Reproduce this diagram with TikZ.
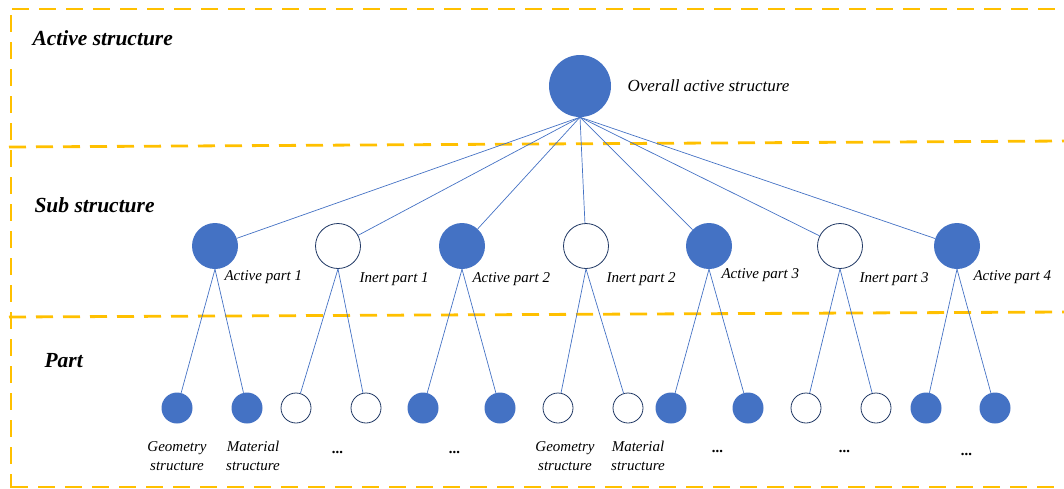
\documentclass[tikz,border=0pt]{standalone}
\usepackage{fontspec}
\setmainfont{Liberation Serif}
\usetikzlibrary{positioning}
\definecolor{partblue}{HTML}{4472C4}
\definecolor{inertedge}{HTML}{203864}
\definecolor{bandgold}{HTML}{FFC000}

\begin{document}
\begin{tikzpicture}[x=1pt, y=-1pt,
  active/.style={circle, fill=partblue, inner sep=0pt, minimum size=#1},
  inert/.style={circle, draw=inertedge, fill=white, line width=0.8pt, inner sep=0pt, minimum size=#1},
  link/.style={draw=partblue, line width=0.7pt},
  band/.style={draw=bandgold, line width=2.8pt, dash pattern=on 17pt off 10pt},
  heading/.style={font=\fontsize{21.5}{24}\selectfont\bfseries\itshape, anchor=west},
  sublabel/.style={font=\fontsize{15}{18}\selectfont\itshape, anchor=west},
  caption/.style={font=\fontsize{15}{19}\selectfont\itshape, align=center}]
\useasboundingbox (0,0) rectangle (1064,488);

% layer bands
\draw[band] (12,9) -- (1064,9);
\draw[band] (11,15) -- (11,488);
\draw[band] (9,147) -- (1064,141);
\draw[band] (9,317) -- (1064,312);
\draw[band] (11,487) -- (1064,487);

\node[heading] (hact) at (29,38) {Active structure};
\node[heading] (hsub) at (31,205) {Sub structure};
\node[heading] (hpart) at (41,361) {Part};

% overall structure
\node[active=62pt] (top) at (580,86) {};
\node[sublabel, font=\fontsize{17}{20}\selectfont\itshape] (toplbl) at (624,86) {Overall active structure};

% sub structures
\node[active=46pt] (a1) at (215,246) {};
\node[inert=45pt]  (i1) at (338,246) {};
\node[active=46pt] (a2) at (462,246) {};
\node[inert=45pt]  (i2) at (586,246) {};
\node[active=46pt] (a3) at (709,246) {};
\node[inert=45pt]  (i3) at (840,246) {};
\node[active=46pt] (a4) at (957,246) {};

\node[sublabel] (a1lbl) at (221,277) {Active part 1};
\node[sublabel] (i1lbl) at (356,279) {Inert part 1};
\node[sublabel] (a2lbl) at (469,279) {Active part 2};
\node[sublabel] (i2lbl) at (603,279) {Inert part 2};
\node[sublabel] (a3lbl) at (718,275) {Active part 3};
\node[sublabel] (i3lbl) at (856,279) {Inert part 3};
\node[sublabel] (a4lbl) at (970,277) {Active part 4};

\foreach \s in {a1,i1,a2,i2,a3,i3,a4}
  \draw[link] (top.south) -- (\s);

% parts
\node[active=31pt] (a1g) at (177,408) {};
\node[active=31pt] (a1m) at (247,408) {};
\node[inert=30pt]  (i1g) at (296,408) {};
\node[inert=30pt]  (i1m) at (366,408) {};
\node[active=31pt] (a2g) at (423,408) {};
\node[active=31pt] (a2m) at (500,408) {};
\node[inert=30pt]  (i2g) at (558,408) {};
\node[inert=30pt]  (i2m) at (628,408) {};
\node[active=31pt] (a3g) at (671,408) {};
\node[active=31pt] (a3m) at (748,408) {};
\node[inert=30pt]  (i3g) at (806,408) {};
\node[inert=30pt]  (i3m) at (876,408) {};
\node[active=31pt] (a4g) at (926,408) {};
\node[active=31pt] (a4m) at (995,408) {};

\foreach \s in {a1,i1,a2,i2,a3,i3,a4}{
  \draw[link] (\s.south) -- (\s g);
  \draw[link] (\s.south) -- (\s m);
}

\node[caption] (geo1) at (177,456) {Geometry\\structure};
\node[caption] (mat1) at (253,456) {Material\\structure};
\node[caption, font=\fontsize{15}{19}\selectfont\bfseries\itshape] (dots1) at (338,452) {...};
\node[caption, font=\fontsize{15}{19}\selectfont\bfseries\itshape] (dots2) at (455,452) {...};
\node[caption] (geo2) at (565,456) {Geometry\\structure};
\node[caption] (mat2) at (638,456) {Material\\structure};
\node[caption, font=\fontsize{15}{19}\selectfont\bfseries\itshape] (dots3) at (718,451) {...};
\node[caption, font=\fontsize{15}{19}\selectfont\bfseries\itshape] (dots4) at (845,451) {...};
\node[caption, font=\fontsize{15}{19}\selectfont\bfseries\itshape] (dots5) at (967,454) {...};
\end{tikzpicture}
\end{document}
